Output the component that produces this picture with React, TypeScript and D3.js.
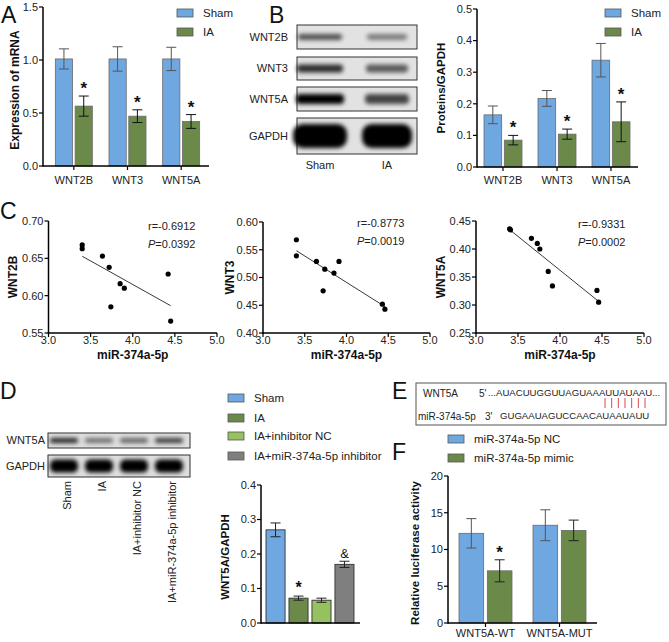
import React from "react";
import * as d3 from "d3";

const FONT = "'Liberation Sans', Arial, Helvetica, sans-serif";
const BLUE = "#6fa8e0";
const OLIVE = "#6b8a4a";
const LIGHTGREEN = "#95c160";
const GREY = "#7f7f7f";

// ---------- Panel A: mRNA ----------
const genes = ["WNT2B", "WNT3", "WNT5A"];
const mrnaSham = [1.01, 1.01, 1.01];
const mrnaShamErr = [0.095, 0.115, 0.11];
const mrnaIA = [0.565, 0.47, 0.42];
const mrnaIAErr = [0.095, 0.06, 0.065];
const mrnaTicks = [0, 0.5, 1.0, 1.5];

// ---------- Panel B: protein ----------
const protSham = [0.165, 0.217, 0.338];
const protShamErr = [0.028, 0.025, 0.053];
const protIA = [0.085, 0.104, 0.143];
const protIAErr = [0.015, 0.016, 0.063];
const protTicks = [0, 0.1, 0.2, 0.3, 0.4, 0.5];
const blotProteinsB = ["WNT2B", "WNT3", "WNT5A", "GAPDH"];
const blotLanesB = ["Sham", "IA"];
const blotIntensityB = [
  [0.65, 0.45],
  [0.8, 0.6],
  [1, 0.7],
  [1, 1],
];

// ---------- Panel C: correlations ----------
const mirX1 = [3.4, 3.4, 3.64, 3.72, 3.74, 3.85, 3.9, 4.42, 4.45];
const wnt2bY = [0.668, 0.663, 0.653, 0.638, 0.585, 0.616, 0.61, 0.629, 0.566];
const mirX2 = [3.4, 3.4, 3.64, 3.72, 3.74, 3.85, 3.91, 4.43, 4.46];
const wnt3Y = [0.568, 0.539, 0.529, 0.476, 0.515, 0.508, 0.529, 0.452, 0.443];
const mirX3 = [3.4, 3.41, 3.66, 3.73, 3.76, 3.86, 3.91, 4.44, 4.46];
const wnt5aY = [0.436, 0.434, 0.419, 0.41, 0.4, 0.36, 0.334, 0.326, 0.305];
const mirTicks = [3.0, 3.5, 4.0, 4.5, 5.0];
const stats = [
  { r: "r=-0.6912", p: "=0.0392" },
  { r: "r=-0.8773", p: "=0.0019" },
  { r: "r=-0.9331", p: "=0.0002" },
];

// ---------- Panel D ----------
const dGroups = ["Sham", "IA", "IA+inhibitor NC", "IA+miR-374a-5p inhibitor"];
const dValues = [0.27, 0.072, 0.066, 0.17];
const dErr = [0.02, 0.006, 0.006, 0.009];
const dMarks = ["", "*", "", "&"];
const dTicks = [0, 0.1, 0.2, 0.3, 0.4];
const dBlotWnt5a = [0.85, 0.5, 0.55, 0.75];
const dBlotGapdh = [1, 1, 1, 1];

// ---------- Panel E ----------
const seqTarget = "...AUACUUGGUUAGUAAAUUAUAAU...";
const seqMir = "GUGAAUAGUCCAACAUAAUAUU";
const pairCount = 7;

// ---------- Panel F ----------
const fConstructs = ["WNT5A-WT", "WNT5A-MUT"];
const fSeries = ["miR-374a-5p NC", "miR-374a-5p mimic"];
const fNC = [12.2, 13.3];
const fNCErr = [2.0, 2.1];
const fMimic = [7.1, 12.6];
const fMimicErr = [1.5, 1.4];
const fTicks = [0, 5, 10, 15, 20];

function YAxis({ x, y, ticks, fmt, labelSize = 11 }) {
  const [d0, d1] = y.domain();
  return (
    <g>
      <line x1={x} x2={x} y1={y(d0) + 0.75} y2={y(d1)} stroke="#000" strokeWidth={1.5} />
      {ticks.map((t) => (
        <g key={t}>
          <line x1={x - 4} x2={x} y1={y(t)} y2={y(t)} stroke="#000" strokeWidth={1.2} />
          <text x={x - 5} y={y(t)} dy="0.35em" textAnchor="end" fontSize={labelSize} fill="#222">
            {fmt(t)}
          </text>
        </g>
      ))}
    </g>
  );
}

function ErrBar({ cx, y, v, e, color, cap = 5 }) {
  return (
    <g stroke={color} strokeWidth={1}>
      <line x1={cx} x2={cx} y1={y(v - e)} y2={y(v + e)} />
      <line x1={cx - cap} x2={cx + cap} y1={y(v + e)} y2={y(v + e)} />
      <line x1={cx - cap} x2={cx + cap} y1={y(v - e)} y2={y(v - e)} />
    </g>
  );
}

function GroupedBars({ cats, series, outer, halfW, y, axisX, axisEnd, ticks, fmt, labelY }) {
  const inner = d3.scaleBand().domain(series.map((s) => s.name)).range([-halfW, halfW]).paddingInner(0.13);
  return (
    <g>
      {cats.map((c, i) => {
        const cx = outer(c) + outer.bandwidth() / 2;
        return (
          <g key={c}>
            {series.map((s) => {
              const bx = cx + inner(s.name);
              const v = s.values[i];
              const e = s.errs[i];
              const mcx = bx + inner.bandwidth() / 2;
              return (
                <g key={s.name}>
                  <rect x={bx} y={y(v)} width={inner.bandwidth()} height={y(0) - y(v)} fill={s.color} stroke="#6a6a6a" strokeWidth={0.8} />
                  <ErrBar cx={mcx} y={y} v={v} e={e} color={s.errColor} />
                  {s.marks && s.marks[i] ? (
                    <text x={mcx} y={y(v + e) - 2} textAnchor="middle" fontSize={17} fontWeight="bold" fill="#111">
                      {s.marks[i]}
                    </text>
                  ) : null}
                </g>
              );
            })}
            <line x1={cx} x2={cx} y1={y(0)} y2={y(0) + 4} stroke="#000" strokeWidth={1.2} />
            <text x={cx} y={labelY} textAnchor="middle" fontSize={11} fill="#222">
              {c}
            </text>
          </g>
        );
      })}
      <line x1={axisX} x2={axisEnd} y1={y(0)} y2={y(0)} stroke="#000" strokeWidth={1.5} />
      <YAxis x={axisX} y={y} ticks={ticks} fmt={fmt} />
    </g>
  );
}

function Legend({ x, ys, items }) {
  return (
    <g>
      {items.map((it, i) => (
        <g key={it.name}>
          <rect x={x} y={ys[i] - 4} width={16} height={8} fill={it.color} stroke="#555" strokeWidth={0.8} />
          <text x={x + 26} y={ys[i]} dy="0.35em" fontSize={11.5} fill="#222">
            {it.name}
          </text>
        </g>
      ))}
    </g>
  );
}

function linreg(xs, ys) {
  const mx = d3.mean(xs);
  const my = d3.mean(ys);
  let sxy = 0;
  let sxx = 0;
  xs.forEach((xv, i) => {
    sxy += (xv - mx) * (ys[i] - my);
    sxx += (xv - mx) * (xv - mx);
  });
  const b = sxy / sxx;
  return { a: my - b * mx, b };
}

function Scatter({ xs, ys, xRange, yDomain, yRange, yTicks, yLabel, yLabelX, stat, statX, statY }) {
  const x = d3.scaleLinear().domain([3, 5]).range(xRange);
  const y = d3.scaleLinear().domain(yDomain).range(yRange);
  const { a, b } = linreg(xs, ys);
  const x0 = d3.min(xs);
  const x1 = d3.max(xs);
  const baseY = yRange[0];
  return (
    <g>
      <line x1={x(x0)} y1={y(a + b * x0)} x2={x(x1)} y2={y(a + b * x1)} stroke="#222" strokeWidth={0.9} />
      {xs.map((xv, i) => (
        <circle key={i} cx={x(xv)} cy={y(ys[i])} r={2.6} fill="#000" />
      ))}
      <line x1={xRange[0] - 0.75} x2={xRange[1]} y1={baseY} y2={baseY} stroke="#000" strokeWidth={1.5} />
      {mirTicks.map((t) => (
        <g key={t}>
          <line x1={x(t)} x2={x(t)} y1={baseY} y2={baseY + 4} stroke="#000" strokeWidth={1.2} />
          <text x={x(t)} y={baseY + 11} textAnchor="middle" fontSize={11} fill="#222">
            {d3.format(".1f")(t)}
          </text>
        </g>
      ))}
      <YAxis x={xRange[0]} y={y} ticks={yTicks} fmt={d3.format(".2f")} />
      <text x={(xRange[0] + xRange[1]) / 2} y={baseY + 26} textAnchor="middle" fontSize={12} fontWeight="bold" fill="#111">
        miR-374a-5p
      </text>
      <text transform={`translate(${yLabelX},${(yRange[0] + yRange[1]) / 2}) rotate(-90)`} textAnchor="middle" dy="0.35em" fontSize={12} fontWeight="bold" fill="#111">
        {yLabel}
      </text>
      <text x={statX} y={statY} dy="0.35em" fontSize={11} fill="#222">
        {stat.r}
      </text>
      <text x={statX} y={statY + 18} dy="0.35em" fontSize={11} fill="#222">
        <tspan fontStyle="italic">P</tspan>
        {stat.p}
      </text>
    </g>
  );
}

function Band({ cx, cy, w, h, k }) {
  return <rect x={cx - w / 2} y={cy - h / 2} width={w} height={h} rx={h / 2.5} fill="#050505" opacity={k} filter="url(#blotblur)" />;
}

export default function App() {
  const yA = d3.scaleLinear().domain([0, 1.5]).range([166, 7]);
  const xA = d3.scaleBand().domain(genes).range([47, 208]);
  const yB = d3.scaleLinear().domain([0, 0.5]).range([167, 9]);
  const xB = d3.scaleBand().domain(genes).range([476, 638]);
  const lanesB = d3.scalePoint().domain(blotLanesB).range([320, 387]);
  const rowsB = [
    { y0: 25, y1: 49, h: 6, w: 44 },
    { y0: 57, y1: 80, h: 8, w: 46 },
    { y0: 87, y1: 111, h: 10, w: 48 },
    { y0: 118, y1: 154, h: 24, w: 54 },
  ];
  const yD = d3.scaleLinear().domain([0, 0.4]).range([623, 485]);
  const xD = d3.scaleBand().domain(dGroups).range([266, 354]).paddingInner(0.17);
  const lanesD = d3.scalePoint().domain(dGroups).range([64, 169]);
  const dColors = [BLUE, OLIVE, LIGHTGREEN, GREY];
  const yF = d3.scaleLinear().domain([0, 20]).range([623, 476]);
  const xF = d3.scaleBand().domain(fConstructs).range([448.5, 596.5]);
  const pairX = d3.scaleLinear().domain([0, pairCount - 1]).range([605, 645]);

  return (
    <svg width={669} height={642} viewBox="0 0 669 642" style={{ position: "absolute", left: 0, top: 0, background: "#fff" }} fontFamily={FONT}>
      <defs>
        <filter id="blotblur" x="-30%" y="-100%" width="160%" height="300%">
          <feGaussianBlur stdDeviation="2" />
        </filter>
      </defs>
      <rect width={669} height={642} fill="#fff" />

      {[
        ["A", 1, 23],
        ["B", 269, 23],
        ["C", 0, 219],
        ["D", 0, 399],
        ["E", 392, 399],
        ["F", 392, 460],
      ].map(([t, x, y]) => (
        <text key={t} x={x} y={y} fontSize={23} fill="#111">
          {t}
        </text>
      ))}

      {/* Panel A */}
      <GroupedBars
        cats={genes}
        series={[
          { name: "Sham", values: mrnaSham, errs: mrnaShamErr, color: BLUE, errColor: "#555" },
          { name: "IA", values: mrnaIA, errs: mrnaIAErr, color: OLIVE, errColor: "#111", marks: genes.map(() => "*") },
        ]}
        outer={xA}
        halfW={18.5}
        y={yA}
        axisX={43}
        axisEnd={209}
        ticks={mrnaTicks}
        fmt={d3.format(".1f")}
        labelY={184}
      />
      <text transform="translate(15,90) rotate(-90)" textAnchor="middle" dy="0.35em" fontSize={12} fontWeight="bold" fill="#111">
        Expression of mRNA
      </text>
      <Legend x={177} ys={[13, 32]} items={[{ name: "Sham", color: BLUE }, { name: "IA", color: OLIVE }]} />

      {/* Panel B blot */}
      {blotProteinsB.map((p, i) => {
        const r = rowsB[i];
        return (
          <g key={p}>
            <rect x={297} y={r.y0} width={120} height={r.y1 - r.y0} fill="#e2e2e2" stroke="#333" strokeWidth={1} />
            {blotLanesB.map((l, j) => (
              <Band key={l} cx={lanesB(l)} cy={(r.y0 + r.y1) / 2} w={r.w - j * 4} h={r.h} k={blotIntensityB[i][j]} />
            ))}
            <text x={288} y={(r.y0 + r.y1) / 2} dy="0.35em" textAnchor="end" fontSize={11} fill="#222">
              {p}
            </text>
          </g>
        );
      })}
      {blotLanesB.map((l) => (
        <text key={l} x={lanesB(l)} y={169} textAnchor="middle" fontSize={11} fill="#222">
          {l}
        </text>
      ))}

      {/* Panel B chart */}
      <GroupedBars
        cats={genes}
        series={[
          { name: "Sham", values: protSham, errs: protShamErr, color: BLUE, errColor: "#555" },
          { name: "IA", values: protIA, errs: protIAErr, color: OLIVE, errColor: "#111", marks: genes.map(() => "*") },
        ]}
        outer={xB}
        halfW={19}
        y={yB}
        axisX={477}
        axisEnd={638}
        ticks={protTicks}
        fmt={d3.format(".1f")}
        labelY={184}
      />
      <text transform="translate(441,88) rotate(-90)" textAnchor="middle" dy="0.35em" fontSize={11.5} fontWeight="bold" fill="#111">
        Proteins/GAPDH
      </text>
      <Legend x={605} ys={[13, 32]} items={[{ name: "Sham", color: BLUE }, { name: "IA", color: OLIVE }]} />

      {/* Panel C */}
      <Scatter xs={mirX1} ys={wnt2bY} xRange={[48.5, 217]} yDomain={[0.55, 0.7]} yRange={[333, 221]} yTicks={[0.55, 0.6, 0.65, 0.7]} yLabel="WNT2B" yLabelX={13} stat={stats[0]} statX={148} statY={226} />
      <Scatter xs={mirX2} ys={wnt3Y} xRange={[263, 430]} yDomain={[0.4, 0.6]} yRange={[333, 222]} yTicks={[0.4, 0.45, 0.5, 0.55, 0.6]} yLabel="WNT3" yLabelX={230} stat={stats[1]} statX={357} statY={223} />
      <Scatter xs={mirX3} ys={wnt5aY} xRange={[476, 644]} yDomain={[0.25, 0.45]} yRange={[333, 221]} yTicks={[0.25, 0.3, 0.35, 0.4, 0.45]} yLabel="WNT5A" yLabelX={441} stat={stats[2]} statX={578} statY={224} />

      {/* Panel D blot */}
      {[
        { name: "WNT5A", y0: 433, y1: 448, vals: dBlotWnt5a, h: 5 },
        { name: "GAPDH", y0: 455, y1: 477, vals: dBlotGapdh, h: 13 },
      ].map((row) => (
        <g key={row.name}>
          <rect x={48} y={row.y0} width={142} height={row.y1 - row.y0} fill="#dedede" stroke="#333" strokeWidth={1} />
          {dGroups.map((g, j) => (
            <Band key={g} cx={lanesD(g)} cy={(row.y0 + row.y1) / 2} w={28} h={row.h} k={row.vals[j]} />
          ))}
          <text x={45} y={(row.y0 + row.y1) / 2} dy="0.35em" textAnchor="end" fontSize={11} fill="#222">
            {row.name}
          </text>
        </g>
      ))}
      {dGroups.map((g) => (
        <text key={g} transform={`translate(${lanesD(g) + 3},481) rotate(-90)`} textAnchor="end" dy="0.35em" fontSize={11} fill="#222">
          {g}
        </text>
      ))}

      {/* Panel D chart */}
      {dGroups.map((g, i) => {
        const cx = xD(g) + xD.bandwidth() / 2;
        return (
          <g key={g}>
            <rect x={xD(g)} y={yD(dValues[i])} width={xD.bandwidth()} height={yD(0) - yD(dValues[i])} fill={dColors[i]} stroke="#333" strokeWidth={0.9} />
            <ErrBar cx={cx} y={yD} v={dValues[i]} e={dErr[i]} color="#222" cap={5} />
            {dMarks[i] ? (
              <text x={cx} y={yD(dValues[i] + dErr[i]) - 3} textAnchor="middle" fontSize={dMarks[i] === "*" ? 16 : 13} fontWeight={dMarks[i] === "*" ? "bold" : "normal"} fill="#111">
                {dMarks[i]}
              </text>
            ) : null}
          </g>
        );
      })}
      <line x1={261} x2={360} y1={yD(0)} y2={yD(0)} stroke="#000" strokeWidth={1.5} />
      <YAxis x={261} y={yD} ticks={dTicks} fmt={d3.format(".1f")} />
      <text transform="translate(225,557) rotate(-90)" textAnchor="middle" dy="0.35em" fontSize={11.5} fontWeight="bold" fill="#111">
        WNT5A/GAPDH
      </text>
      <Legend x={228} ys={[398, 418, 436, 456]} items={dGroups.map((g, i) => ({ name: g, color: dColors[i] }))} />

      {/* Panel E */}
      <rect x={416} y={383} width={250} height={42} fill="#fff" stroke="#555" strokeWidth={1} />
      <text x={423} y={393} dy="0.35em" fontSize={10} fill="#222">WNT5A</text>
      <text x={479} y={393} dy="0.35em" fontSize={10} fill="#222">5'</text>
      <text x={488} y={393} dy="0.35em" fontSize={9.6} fill="#222">{seqTarget}</text>
      <text x={418} y={416} dy="0.35em" fontSize={10} fill="#222">miR-374a-5p</text>
      <text x={485} y={416} dy="0.35em" fontSize={10} fill="#222">3'</text>
      <text x={500} y={416} dy="0.35em" fontSize={9.6} fill="#222">{seqMir}</text>
      {d3.range(pairCount).map((i) => (
        <line key={i} x1={pairX(i)} x2={pairX(i)} y1={398} y2={408} stroke="#e0474c" strokeWidth={1} />
      ))}

      {/* Panel F */}
      <Legend x={448} ys={[439, 458]} items={[{ name: fSeries[0], color: BLUE }, { name: fSeries[1], color: OLIVE }]} />
      <GroupedBars
        cats={fConstructs}
        series={[
          { name: fSeries[0], values: fNC, errs: fNCErr, color: BLUE, errColor: "#555" },
          { name: fSeries[1], values: fMimic, errs: fMimicErr, color: OLIVE, errColor: "#222", marks: ["*", ""] },
        ]}
        outer={xF}
        halfW={26.5}
        y={yF}
        axisX={448}
        axisEnd={597}
        ticks={fTicks}
        fmt={d3.format("d")}
        labelY={637}
      />
      <text transform="translate(415,553) rotate(-90)" textAnchor="middle" dy="0.35em" fontSize={11.5} fontWeight="bold" fill="#111">
        Relative luciferase activity
      </text>
    </svg>
  );
}
